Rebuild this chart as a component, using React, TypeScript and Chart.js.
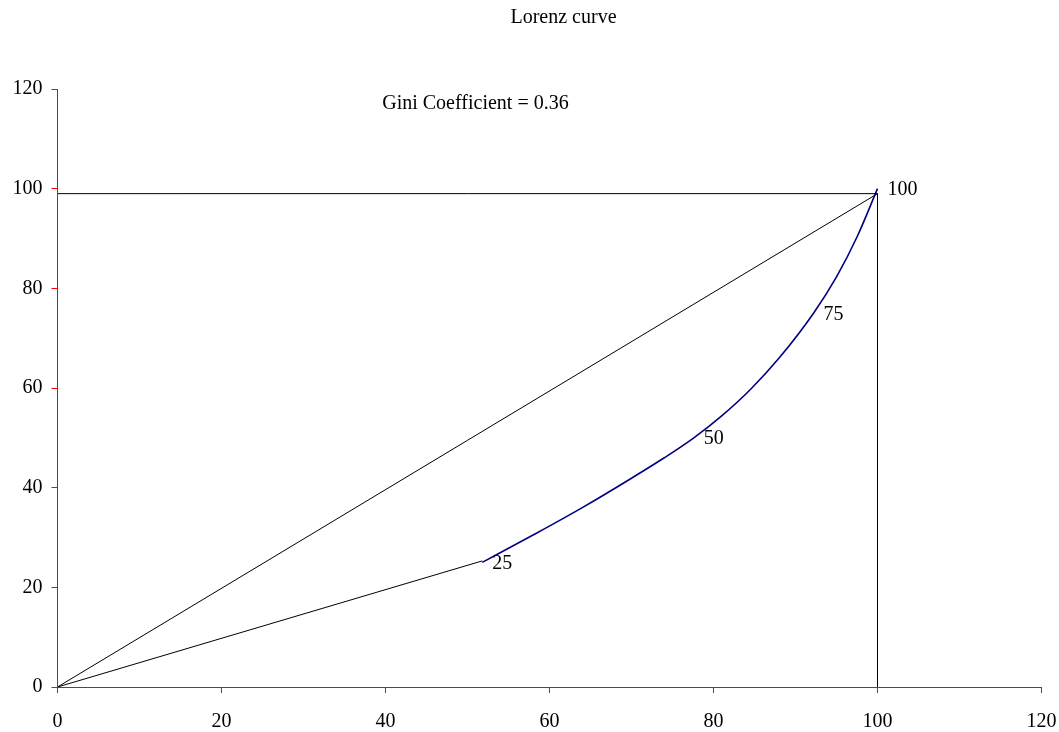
import React, { useEffect, useRef } from "react";
import { Chart, registerables } from "chart.js";

Chart.register(...registerables);

const chartTitle = "Lorenz curve";
const giniText = "Gini Coefficient = 0.36";

const axisTicks = [0, 20, 40, 60, 80, 100, 120];

// Lorenz curve (blue), cumulative population % vs cumulative income %
const curveX = [51.8, 58, 64, 70, 74, 77.6, 81, 84.5, 88, 92.2, 95, 97.5, 100];
const curveY = [25, 30.5, 36, 41.9, 46, 50, 54.4, 59.7, 66, 75, 82.3, 90.3, 100];

// first segment from origin to the first quartile point
const segX = [0, 51.8];
const segY = [0, 25.3];

// line of equality
const diagX = [0, 100];
const diagY = [0, 99];

// bounding box lines
const boxX = [0, 100, 100];
const boxY = [99, 99, 0];

// quartile labels
const quartLabels = ["25", "50", "75", "100"];
const quartX = [51.8, 77.6, 92.2, 100];
const quartY = [25, 50, 75, 100];

const giniX = 39.6;
const giniY = 117;

const FONT = "'Liberation Serif', 'Times New Roman', serif";

const zip = (xs: number[], ys: number[]) => xs.map((x, i) => ({ x, y: ys[i] }));

const axisLinePlugin = {
  id: "axisLinePlugin",
  afterDraw(chart: any) {
    const ctx = chart.ctx;
    const a = chart.chartArea;
    const l = Math.floor(a.left) + 0.5;
    const b = Math.round(a.bottom) + 0.5;
    ctx.save();
    ctx.strokeStyle = "#ff0000";
    ctx.lineWidth = 1;
    ctx.beginPath();
    ctx.moveTo(l, Math.round(a.top));
    ctx.lineTo(l, b);
    ctx.lineTo(Math.round(a.right), b);
    ctx.stroke();
    ctx.restore();
  },
};

const textPlugin = {
  id: "textPlugin",
  afterDraw(chart: any) {
    const ctx = chart.ctx;
    const xs = chart.scales.x;
    const ys = chart.scales.y;
    ctx.save();
    ctx.fillStyle = "#000";
    ctx.font = `20px ${FONT}`;
    ctx.textAlign = "center";
    ctx.textBaseline = "alphabetic";
    ctx.fillText(chartTitle, 563.5, 23);
    ctx.textAlign = "left";
    ctx.textBaseline = "middle";
    ctx.fillText(giniText, xs.getPixelForValue(giniX), ys.getPixelForValue(giniY));
    quartLabels.forEach((lab, i) => {
      const px = xs.getPixelForValue(quartX[i]);
      const py = ys.getPixelForValue(quartY[i]);
      ctx.fillText(lab, px + 10, py + 1);
    });
    ctx.restore();
  },
};

export default function App() {
  const ref = useRef<HTMLCanvasElement | null>(null);

  useEffect(() => {
    if (!ref.current) return;
    const axisCommon = {
      type: "linear" as const,
      min: 0,
      max: 120,
      grid: {
        drawOnChartArea: false,
        drawTicks: true,
        tickLength: 6,
        color: "#ff0000",
        lineWidth: 1,
      },
      border: { display: false },
      ticks: {
        stepSize: 20,
        color: "#000",
        font: { family: FONT, size: 20 },
        callback: (v: any) => (axisTicks.includes(Number(v)) ? String(v) : ""),
      },
    };
    const line = (xs: number[], ys: number[], color: string, width: number, extra: any = {}) => ({
      data: zip(xs, ys),
      showLine: true,
      borderColor: color,
      borderWidth: width,
      pointRadius: 0,
      ...extra,
    });
    const chart = new Chart(ref.current, {
      type: "scatter",
      data: {
        datasets: [
          line(diagX, diagY, "#000", 1),
          line(boxX, boxY, "#000", 1),
          line(segX, segY, "#000", 1),
          line(curveX, curveY, "#000080", 1.6, { cubicInterpolationMode: "monotone" }),
        ],
      },
      options: {
        responsive: false,
        animation: false,
        layout: { padding: { top: 89, right: 17.5, left: 0, bottom: 0 } },
        plugins: {
          legend: { display: false },
          title: { display: false },
          tooltip: { enabled: false },
        },
        scales: {
          x: {
            ...axisCommon,
            position: "bottom",
            ticks: { ...axisCommon.ticks, padding: 17, maxRotation: 0 },
            afterFit: (s: any) => {
              s.height = 45;
              s.paddingLeft = 0;
              s.paddingRight = 0;
            },
          },
          y: {
            ...axisCommon,
            position: "left",
            ticks: { ...axisCommon.ticks, padding: 9 },
            afterFit: (s: any) => {
              s.width = 57.5;
              s.paddingTop = 0;
              s.paddingBottom = 0;
            },
          },
        },
      },
      plugins: [axisLinePlugin, textPlugin],
    } as any);
    return () => chart.destroy();
  }, []);

  return (
    <div style={{ position: "absolute", left: 0, top: 0, width: 1059, height: 732, background: "#fff" }}>
      <canvas ref={ref} width={1059} height={732} />
    </div>
  );
}
